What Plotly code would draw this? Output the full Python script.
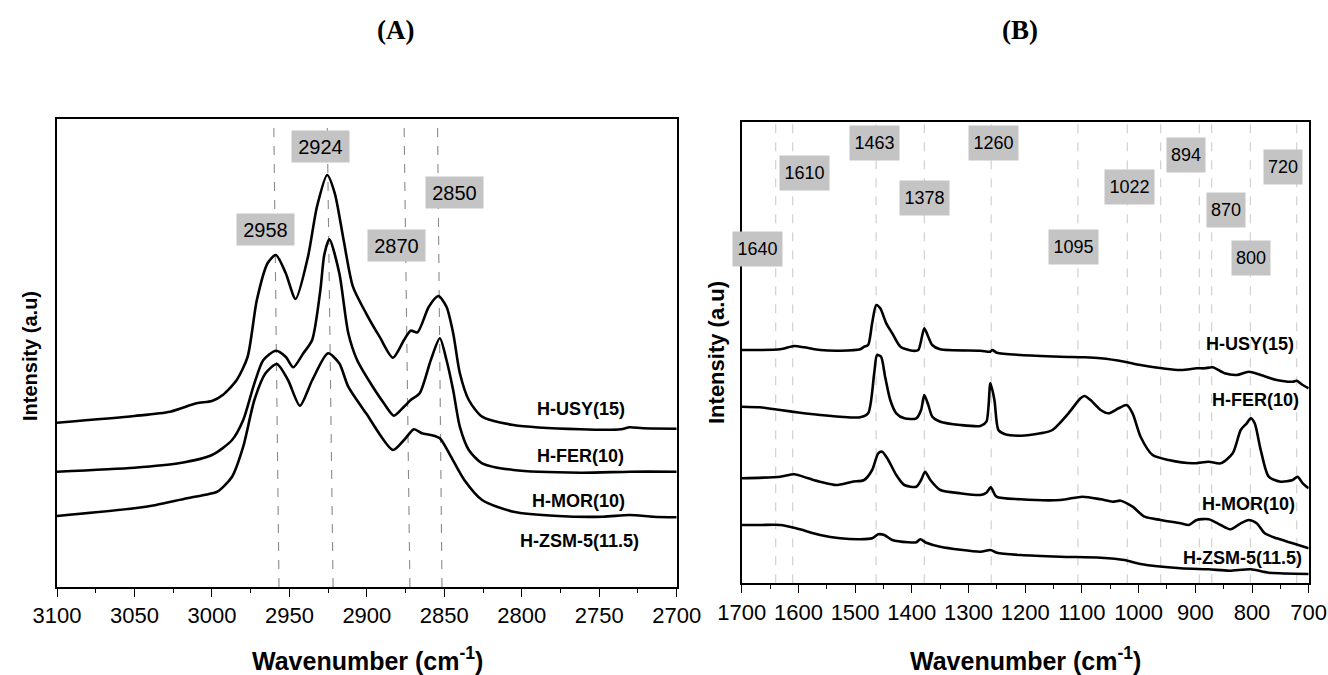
import plotly.graph_objects as go

# ---------------- Panel A data (wavenumber, intensity a.u.) ----------------
a_usy_x = [3100, 3050, 3027, 3010, 3000, 2993, 2984, 2977, 2971, 2964, 2958.7, 2952.4, 2946, 2938, 2932.2,
           2925.6, 2920.7, 2915, 2909, 2900.5, 2891.8, 2883.2, 2876, 2871.7, 2867.3, 2860, 2853.8, 2848.6,
           2844.3, 2840, 2834.2, 2825.6, 2805.4, 2762, 2736, 2730.4, 2721.7, 2700]
a_usy_y = [164.3, 171, 175.3, 183.7, 186, 192, 207, 230, 287, 324, 332, 314, 288, 330.3, 380.3,
           412, 393.7, 347, 300.3, 273.7, 250.3, 229.3, 247, 256.3, 254.7, 280.3, 291, 280.3,
           254, 214, 187, 170.3, 162, 157.7, 157.7, 159.7, 158.7, 158.3]

a_fer_x = [3100, 3050, 3021.5, 3000, 2987, 2979.8, 2972.6, 2966.8, 2958.7, 2952.4, 2947.5, 2941, 2935.3,
           2930, 2927.5, 2924.2, 2917.8, 2912, 2906.3, 2897.6, 2889, 2882.6, 2876, 2871.7, 2865.9, 2858.7,
           2852.9, 2848.6, 2844.3, 2840, 2834.2, 2825.6, 2805.4, 2762, 2730, 2700]
a_fer_y = [115.3, 119.3, 123.7, 132, 147, 167, 203.7, 227, 236.3, 230.3, 219.7, 233.7, 247,
           297, 332, 347.7, 314, 254, 227, 203.7, 183.7, 171.3, 180.3, 187, 193.7, 227,
           248.7, 227, 197, 160.3, 137, 123.7, 117, 114.3, 115.3, 115.3]

a_mor_x = [3100, 3050, 3036, 3016, 3005, 2996.5, 2987, 2979.8, 2972.6, 2965.4, 2958.1, 2950.9, 2943.2,
           2935.2, 2925.1, 2917.8, 2912, 2900.5, 2883.2, 2876, 2869.6, 2864.4, 2858.7, 2852.9, 2845.7,
           2837.1, 2825.6, 2805.4, 2776.6, 2747.7, 2730.4, 2715, 2700]
a_mor_y = [71, 78.7, 82, 88.7, 92, 95.3, 110.3, 140.3, 187, 213.7, 223, 207, 181.3,
           207, 233.7, 223.7, 200.3, 173.7, 137, 147, 157.7, 153.7, 152, 148.7, 130.3,
           107, 87, 75.3, 71, 70.3, 72, 70.3, 69.7]

a_ticks = [3100, 3050, 3000, 2950, 2900, 2850, 2800, 2750, 2700]
a_peak_labels = ["2924", "2850", "2958", "2870"]
a_peak_label_x = [2929.6, 2843.4, 2965.1, 2880.8]
a_peak_label_y = [440.3, 394.3, 357.3, 341.2]
a_line_bottom = [2956.7, 2921.8, 2872.2, 2851.5]
a_line_top = [2960.1, 2925.6, 2876.0, 2854.4]

# ---------------- Panel B data ----------------
b_usy_x = [1700, 1632, 1607.5, 1590, 1561.6, 1526, 1491, 1484, 1477, 1470, 1462.7, 1455.6, 1445, 1434.4,
           1420, 1399, 1388.5, 1378, 1371, 1364, 1350, 1279, 1261.4, 1258, 1250, 1208.4, 1137.8, 1095.4,
           1067, 1024.8, 996.5, 925.9, 897.6, 883.5, 869.4, 848.2, 827, 805.8, 784.6, 756.4, 728.2,
           721.2, 710.5, 700]
b_usy_y = [233.3, 234, 237.3, 236, 233.3, 232.6, 234, 236.6, 238.3, 260, 278.3, 275, 260, 250,
           236.6, 232.6, 233.3, 255, 246.6, 238.3, 234, 232.6, 231.6, 233.3, 230.6, 228.3, 226.6, 226,
           225, 221.6, 218.3, 213.3, 215, 215, 216, 210, 208.3, 211.6, 208.3, 203.3, 201.6,
           202.6, 198.3, 195]

b_fer_x = [1700, 1667.5, 1632, 1597, 1561.6, 1526.3, 1491, 1477, 1466.3, 1461.3, 1454.2, 1447.1, 1438,
           1427.4, 1413.2, 1392, 1383.6, 1378, 1370.9, 1363.8, 1349.7, 1314.4, 1279, 1268.4, 1261.4,
           1254.3, 1247.3, 1236.6, 1208.4, 1173, 1151.9, 1123.7, 1102.5, 1095.4, 1084.8, 1067, 1053,
           1035.4, 1021.2, 1010.6, 996.5, 975.3, 947, 904.6, 876.4, 855.2, 834, 819.9, 809.3, 802.2,
           795.2, 784.6, 770.5, 749.3, 728.2, 719.7, 710.5, 700]
b_fer_y = [176.6, 176, 173.3, 170.6, 168.3, 166.6, 166, 170, 210, 228.3, 226.6, 206.6, 183.3,
           170, 165, 165, 173.3, 188.3, 178.3, 166.6, 161.6, 158.3, 157.3, 161.6, 200,
           183.3, 153.3, 149.3, 147.6, 150, 153.3, 170, 185, 187.3, 183.3, 173.3, 170,
           175, 178.3, 170, 146.6, 128.3, 123.3, 120, 121.6, 120, 130, 153.3, 160, 165,
           160, 133.3, 106.6, 101.6, 103.3, 106.6, 100, 95]

b_mor_x = [1700, 1632, 1607.5, 1582.7, 1561.6, 1533.3, 1505, 1484, 1470, 1459.2, 1452.1, 1441.5, 1427.4,
           1413.2, 1392, 1383.6, 1376.5, 1367.3, 1349.7, 1314.4, 1279, 1268.4, 1260.7, 1250.8, 1208.4,
           1137.8, 1099, 1067, 1045.9, 1031.8, 1010.6, 989.4, 961.2, 925.9, 911.8, 897.6, 876.4, 855.2,
           837.6, 819.9, 805.8, 791.7, 777.6, 756.4, 728.2, 700]
b_mor_y = [105, 106.6, 109, 105, 101.6, 98.3, 101.6, 103.3, 113.3, 130, 131.6, 123.3, 108.3,
           98.3, 96.6, 103.3, 111.6, 103.3, 93.3, 90, 88.3, 90.6, 96, 86.6, 84,
           83.3, 86.6, 84, 81.6, 82.6, 76.6, 66.6, 63.3, 60, 58.3, 63.3, 64, 58.3,
           54, 60, 63.3, 60, 50, 45, 40, 35]

b_zsm_x = [1700, 1667.5, 1632, 1604, 1561.6, 1526.3, 1490.9, 1469.8, 1459.2, 1448.6, 1434.4, 1406.2,
           1392, 1385, 1374.4, 1349.7, 1279, 1261.4, 1250, 1208.4, 1137.8, 1067, 1024.8, 996.5,
           925.9, 876.4, 840, 802.4, 770, 700]
b_zsm_y = [58.3, 58.3, 58.3, 55, 48.3, 45, 44, 45, 49, 48.3, 43.3, 41,
           41, 44, 40.6, 36.6, 31.6, 33.3, 30.6, 28.3, 26.6, 25.6, 23.3, 19.3,
           15, 14, 12.6, 14, 10.6, 9.3]

b_ticks = [1700, 1600, 1500, 1400, 1300, 1200, 1100, 1000, 900, 800, 700]
b_lines = [1640, 1610, 1463, 1378, 1260, 1107, 1020, 961, 893, 871, 803, 721]
b_peak_labels = ["1463", "1260", "1610", "894", "720", "1378", "1022", "870", "1640", "1095", "800"]
b_peak_label_x = [1465.3, 1255.6, 1588.4, 916.4, 744.8, 1377.2, 1015.2, 845.3, 1672, 1114.6, 802.6]
b_peak_label_y = [440.3, 440.3, 410.3, 428.3, 416.3, 385.3, 396.3, 373.3, 334.3, 336.3, 325.6]

sample_names = ["H-USY(15)", "H-FER(10)", "H-MOR(10)", "H-ZSM-5(11.5)"]
a_name_x = [2761.7, 2761.9, 2763.6, 2762.6]
a_name_y = [178, 131, 86, 46]
b_name_x = [803.5, 793.8, 805.8, 817.6]
b_name_y = [239.3, 183.3, 79.3, 25.3]

FONT = "Arial, Liberation Sans, sans-serif"
W, H = 1328, 675

fig = go.Figure()
line_style = dict(color="black", width=2.6, shape="spline", smoothing=0.7)
for xs, ys in [(a_usy_x, a_usy_y), (a_fer_x, a_fer_y), (a_mor_x, a_mor_y)]:
    fig.add_trace(go.Scatter(x=xs, y=ys, mode="lines", line=line_style, xaxis="x", yaxis="y",
                             showlegend=False, hoverinfo="skip"))
for xs, ys in [(b_usy_x, b_usy_y), (b_fer_x, b_fer_y), (b_mor_x, b_mor_y), (b_zsm_x, b_zsm_y)]:
    fig.add_trace(go.Scatter(x=xs, y=ys, mode="lines", line=line_style, xaxis="x2", yaxis="y2",
                             showlegend=False, hoverinfo="skip"))

shapes = []
for xb, xt in zip(a_line_bottom, a_line_top):
    shapes.append(dict(type="line", xref="x", yref="y", x0=xb, y0=0, x1=xt, y1=468,
                       line=dict(color="#8a8a8a", width=1.1, dash="dash"), layer="below"))
for xv in b_lines:
    shapes.append(dict(type="line", xref="x2", yref="y2", x0=xv, y0=0, x1=xv, y1=461.6,
                       line=dict(color="#c8c8c8", width=1, dash="dash"), layer="below"))

annotations = []
for t, x, y in zip(a_peak_labels, a_peak_label_x, a_peak_label_y):
    annotations.append(dict(text=t, x=x, y=y, xref="x", yref="y", showarrow=False,
                            xanchor="center", yanchor="middle",
                            width=57, height=31, bgcolor="#c4c4c4", borderpad=0,
                            font=dict(family=FONT, size=20, color="black")))
for t, x, y in zip(b_peak_labels, b_peak_label_x, b_peak_label_y):
    annotations.append(dict(text=t, x=x, y=y, xref="x2", yref="y2", showarrow=False,
                            xanchor="center", yanchor="middle",
                            width=49 if len(t) == 4 else 38, height=34, bgcolor="#c4c4c4", borderpad=0,
                            font=dict(family=FONT, size=18, color="black")))
for t, x, y in zip(sample_names, a_name_x, a_name_y):
    annotations.append(dict(text="<b>" + t + "</b>", x=x, y=y, xref="x", yref="y", showarrow=False,
                            xanchor="center", yanchor="middle",
                            font=dict(family=FONT, size=18, color="black")))
for t, x, y in zip(sample_names, b_name_x, b_name_y):
    annotations.append(dict(text="<b>" + t + "</b>", x=x, y=y, xref="x2", yref="y2", showarrow=False,
                            xanchor="center", yanchor="middle",
                            font=dict(family=FONT, size=18, color="black")))

# panel titles and axis titles
for t, px in [("(A)", 395), ("(B)", 1020)]:
    annotations.append(dict(text="<b>" + t + "</b>", x=px / W, y=1 - 30 / H, xref="paper", yref="paper",
                            xanchor="center", yanchor="middle", showarrow=False,
                            font=dict(family="Liberation Serif, Times New Roman, serif",
                                      size=27, color="black")))
for px in [367, 1025]:
    annotations.append(dict(text="<b>Wavenumber (cm<sup>-1</sup>)</b>", x=px / W, y=1 - 659 / H,
                            xref="paper", yref="paper", showarrow=False,
                            xanchor="center", yanchor="middle",
                            font=dict(family=FONT, size=25, color="black")))
for px, py, fs in [(30, 356, 20), (716, 353, 22)]:
    annotations.append(dict(text="<b>Intensity (a.u)</b>", x=px / W, y=1 - py / H, xref="paper",
                            yref="paper", showarrow=False, textangle=-90,
                            xanchor="center", yanchor="middle",
                            font=dict(family=FONT, size=fs, color="black")))

axis_common = dict(showline=True, linecolor="black", linewidth=1.6, mirror=True, showgrid=False,
                   zeroline=False, ticks="outside", ticklen=8, tickwidth=1.4, tickcolor="black",
                   automargin=False, tickfont=dict(family=FONT, size=22, color="black"))

fig.update_layout(
    width=W, height=H, margin=dict(l=0, r=0, t=0, b=0, pad=0, autoexpand=False),
    paper_bgcolor="white", plot_bgcolor="white",
    shapes=shapes, annotations=annotations,
    xaxis=dict(domain=[57 / W, 676.7 / W], range=[3100, 2700], tickmode="array", tickvals=a_ticks,
               ticktext=[str(v) for v in a_ticks],
               minor=dict(ticks="outside", ticklen=4, tickwidth=1.2, tickcolor="black", dtick=25, tick0=2700),
               anchor="y", **axis_common),
    yaxis=dict(domain=[(H - 587) / H, (H - 119) / H], range=[0, 468], showticklabels=False, ticks="",
               showline=True, linecolor="black", linewidth=1.6, mirror=True, showgrid=False,
               zeroline=False, anchor="x", automargin=False),
    xaxis2=dict(domain=[741.7 / W, 1308.7 / W], range=[1700, 700], tickmode="array", tickvals=b_ticks,
                ticktext=[str(v) for v in b_ticks],
                minor=dict(ticks="outside", ticklen=4, tickwidth=1.2, tickcolor="black", dtick=50, tick0=700),
                anchor="y2", **axis_common),
    yaxis2=dict(domain=[(H - 583.3) / H, (H - 121.7) / H], range=[0, 461.6], showticklabels=False,
                ticks="", showline=True, linecolor="black", linewidth=1.6, mirror=True, showgrid=False,
                zeroline=False, anchor="x2", automargin=False),
)

fig.write_html("out.html", config={"displayModeBar": False},
               post_script="document.body.style.margin='0px';")
